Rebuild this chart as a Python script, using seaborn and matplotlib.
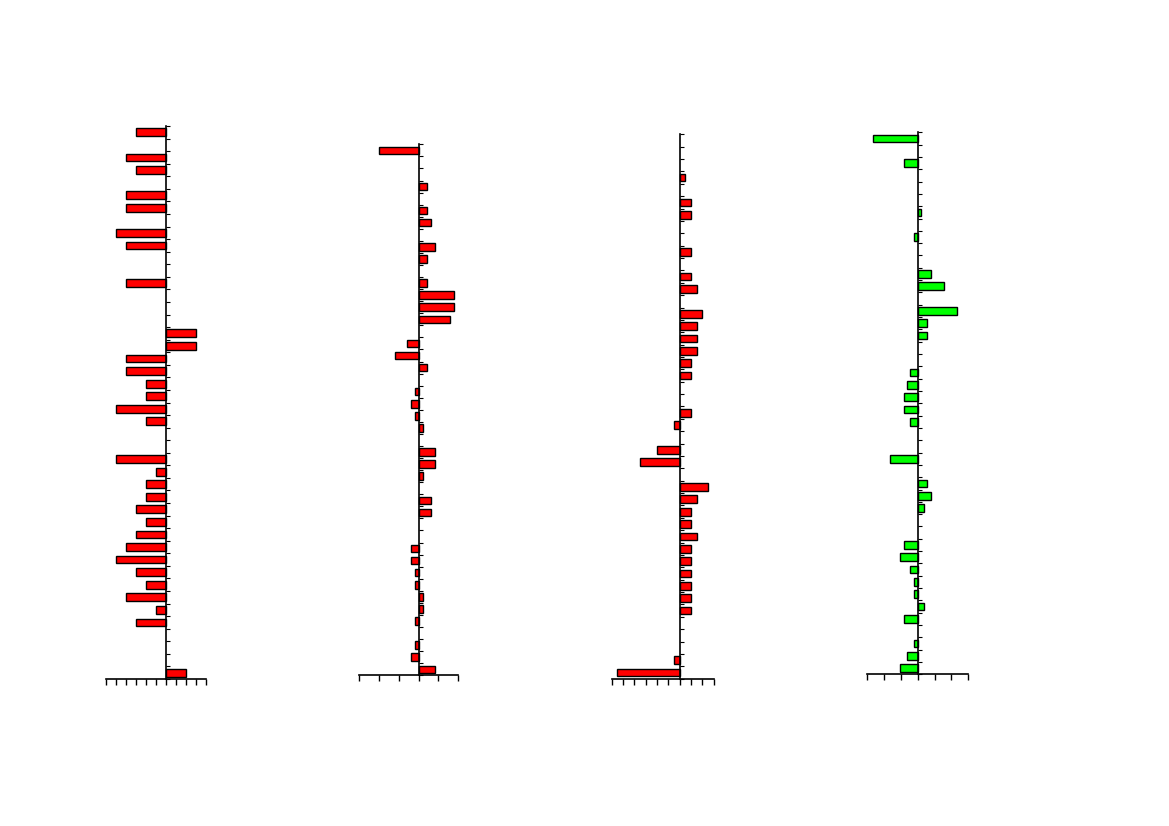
import numpy as np
import pandas as pd
import matplotlib
matplotlib.use("Agg")
import matplotlib.pyplot as plt
import seaborn as sns

# 44 category slots per panel, only some of them carry a bar
n_slots = 44
slot_names = [str(i) for i in range(n_slots)]

# panel 1 (tick step 1, range -6..4)
p1_slots = [0, 2, 3, 5, 6, 8, 9, 12, 16, 17, 18, 19, 20, 21, 22, 23, 26, 27, 28, 29,
            30, 31, 32, 33, 34, 35, 36, 37, 38, 39, 43]
p1_vals = [-3, -4, -3, -4, -4, -5, -4, -4, 3, 3, -4, -4, -2, -2, -5, -2, -5, -1, -2, -2,
           -3, -2, -3, -4, -5, -3, -2, -4, -1, -3, 2]

# panel 2 (tick step 5, range -15..10)
p2_slots = [0, 3, 5, 6, 8, 9, 11, 12, 13, 14, 16, 17, 18, 20, 21, 22, 23, 25, 26, 27,
            29, 30, 33, 34, 35, 36, 37, 38, 39, 41, 42, 43]
p2_vals = [-10, 2, 2, 3, 4, 2, 2, 9, 9, 8, -3, -6, 2, -1, -2, -1, 1, 4, 4, 1,
           3, 3, -2, -2, -1, -1, 1, 1, -1, -1, -2, 4]

# panel 3 (tick step 2, range -12..6)
p3_slots = [3, 5, 6, 9, 11, 12, 14, 15, 16, 17, 18, 19, 22, 23, 25, 26, 28, 29, 30, 31,
            32, 33, 34, 35, 36, 37, 38, 42, 43]
p3_vals = [1, 2, 2, 2, 2, 3, 4, 3, 3, 3, 2, 2, 2, -1, -4, -7, 5, 3, 2, 2,
           3, 2, 2, 2, 2, 2, 2, -1, -11]

# panel 4 (tick step 1, range -3..3)
p4_slots = [0, 2, 6, 8, 11, 12, 14, 15, 16, 19, 20, 21, 22, 23, 26, 28, 29, 30, 33, 34,
            35, 36, 37, 38, 39, 41, 42, 43]
p4_vals = [-2.65, -0.82, 0.18, -0.24, 0.76, 1.53, 2.35, 0.53, 0.53, -0.47, -0.65, -0.82,
           -0.82, -0.47, -1.65, 0.53, 0.76, 0.35, -0.82, -1.06, -0.47, -0.24, -0.24, 0.35,
           -0.82, -0.24, -0.65, -1.06]

panels = [
    # slots, values, colour, x-ticks, pixel box (x0, y0, x1, y1)
    (p1_slots, p1_vals, "#ff0000", np.arange(-6, 5, 1), (105.7, 126.0, 205.7, 679.0)),
    (p2_slots, p2_vals, "#ff0000", np.arange(-15, 11, 5), (359.3, 144.3, 458.3, 675.3)),
    (p3_slots, p3_vals, "#ff0000", np.arange(-12, 7, 2), (611.7, 134.3, 713.7, 678.7)),
    (p4_slots, p4_vals, "#00ff00", np.arange(-3, 4, 1), (867.3, 132.3, 968.3, 674.3)),
]

sns.set_style("white")
W, H = 1169, 826
fig = plt.figure(figsize=(W / 100, H / 100), dpi=100)

for slots, vals, colour, xticks, (x0, y0, x1, y1) in panels:
    ax = fig.add_axes([x0 / W, 1 - y1 / H, (x1 - x0) / W, (y1 - y0) / H])
    df = pd.DataFrame({"cat": [slot_names[s] for s in slots], "val": vals})
    sns.barplot(data=df, x="val", y="cat", order=slot_names, orient="h",
                color=colour, edgecolor="black", linewidth=1.0, width=0.62,
                errorbar=None, saturation=1, ax=ax)
    ax.set_xlim(xticks[0], xticks[-1])
    ax.set_ylim(n_slots - 0.5, -0.5)
    ax.set_xticks(xticks)
    ax.set_xticklabels([])
    ax.set_yticks(np.arange(-0.5, n_slots, 1))
    ax.set_yticklabels([])
    ax.set_xlabel("")
    ax.set_ylabel("")
    for side in ["top", "right"]:
        ax.spines[side].set_visible(False)
    ax.spines["left"].set_position(("data", 0))
    for side in ["left", "bottom"]:
        ax.spines[side].set_color("black")
        ax.spines[side].set_linewidth(1.2)
    ax.tick_params(axis="y", direction="in", length=3, width=0.8, color="black", left=True)
    ax.tick_params(axis="x", direction="out", length=4, width=1.0, color="black", bottom=True)
    ax.set_facecolor("white")
    ax.patch.set_alpha(0)

fig.savefig("out.png", dpi=100)
